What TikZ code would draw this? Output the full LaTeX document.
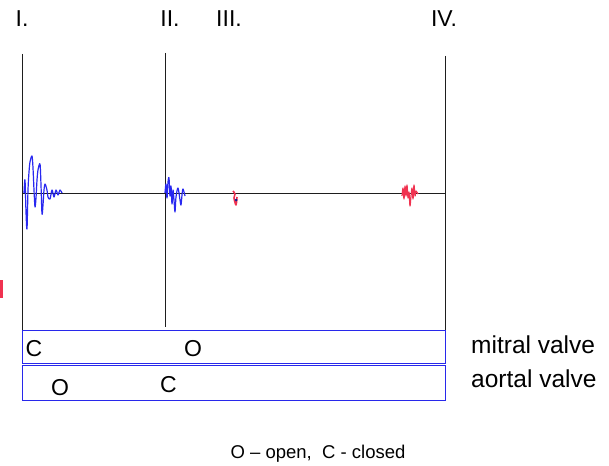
\documentclass[tikz,border=0pt]{standalone}
\usepackage{fontspec}
\setmainfont{Liberation Sans}
\definecolor{boxblue}{RGB}{40,40,235}
\definecolor{waveblue}{RGB}{40,40,240}
\definecolor{wavered}{RGB}{240,50,80}
\definecolor{axisgray}{RGB}{30,30,30}
\begin{document}
\begin{tikzpicture}[x=1pt,y=-1pt,
  axisline/.style={draw=axisgray,line width=0.85pt},
  valvebox/.style={draw=boxblue,line width=1.4pt},
  numlabel/.style={anchor=base,inner sep=0pt,font=\fontsize{23}{26}\selectfont},
  valvelabel/.style={anchor=base,inner sep=0pt,font=\fontsize{23}{26}\selectfont},
  sidelabel/.style={anchor=base west,inner sep=0pt,font=\fontsize{24.5}{28}\selectfont},
  notelabel/.style={anchor=base,inner sep=0pt,font=\fontsize{18.5}{22}\selectfont},
  bluewave/.style={draw=waveblue,line width=1.2pt,line join=round},
  redwave/.style={draw=wavered,line width=1.2pt,line join=round}]
\useasboundingbox (0,0) rectangle (609,465);
% labels
\node[numlabel] (n1) at (22,27) {I.};
\node[numlabel] (n2) at (170,27) {II.};
\node[numlabel] (n3) at (229,27) {III.};
\node[numlabel] (n4) at (444,27) {IV.};
% coordinates of lines
\coordinate (l1t) at (22,54);
\coordinate (l1b) at (22,330);
\coordinate (l2t) at (165,53);
\coordinate (l2b) at (165,327);
\coordinate (l4t) at (445,56);
\coordinate (l4b) at (445,330);
\coordinate (axl) at (22,193);
\coordinate (axr) at (445,193);
\draw[axisline] (l1t) -- (l1b);
\draw[axisline] (l2t) -- (l2b);
\draw[axisline] (l4t) -- (l4b);
\draw[axisline] (axl) -- (axr);
% valve boxes
\node[valvebox,minimum width=423pt,minimum height=33pt,inner sep=0pt,anchor=north west] (mitral) at (22,330) {};
\node[valvebox,minimum width=423pt,minimum height=35pt,inner sep=0pt,anchor=north west] (aortal) at (22,365) {};
\node[valvelabel] (mc) at (34,356) {C};
\node[valvelabel] (mo) at (193,356) {O};
\node[valvelabel] (ao) at (60,395) {O};
\node[valvelabel] (ac) at (168.5,392) {C};
\node[sidelabel] (mv) at (471,353) {mitral valve};
\node[sidelabel] (av) at (471,387) {aortal valve};
\node[notelabel] (note) at (318,458) {O – open,\ \ C - closed};
% red bar at left edge
\fill[wavered] (0,280) rectangle (2.5,298);
% wave I
\draw[bluewave] plot[smooth,tension=0.5] coordinates {(24,193) (25,180) (26,212) (27,229) (28,190) (29,172) (30,162) (32,156) (33,168) (34,190) (35,207) (36,198) (37,180) (38,170) (40,164) (41,185) (42,214) (43,205) (44,190) (45,184) (47,190) (48,197) (50,199) (52,190) (54,197) (56,190) (58,195) (60,190) (62,193)};
% wave II
\draw[bluewave] plot[smooth,tension=0.5] coordinates {(165,193) (166,184) (167,198) (168,182) (169,178) (170,196) (171,186) (172,204) (173,190) (174,200) (175,212) (176,197) (178,188) (180,200) (181,205) (182,195) (183,189) (185,196)};
% wave III
\draw[redwave,line width=1.6pt] plot[smooth,tension=0.5] coordinates {(233,191) (235,194) (234,198) (236,205) (237,197)};
\fill[waveblue!60!black] (236,200) circle (1.5pt);
% wave IV
\draw[redwave] plot[smooth,tension=0.4] coordinates {(402,196) (403,188) (404,199) (405,186) (406,196) (407,185) (408,198) (409,192) (410,206) (411,196) (412,188) (413,199) (414,185) (415,196) (416,191) (418,194)};
\end{tikzpicture}
\end{document}
